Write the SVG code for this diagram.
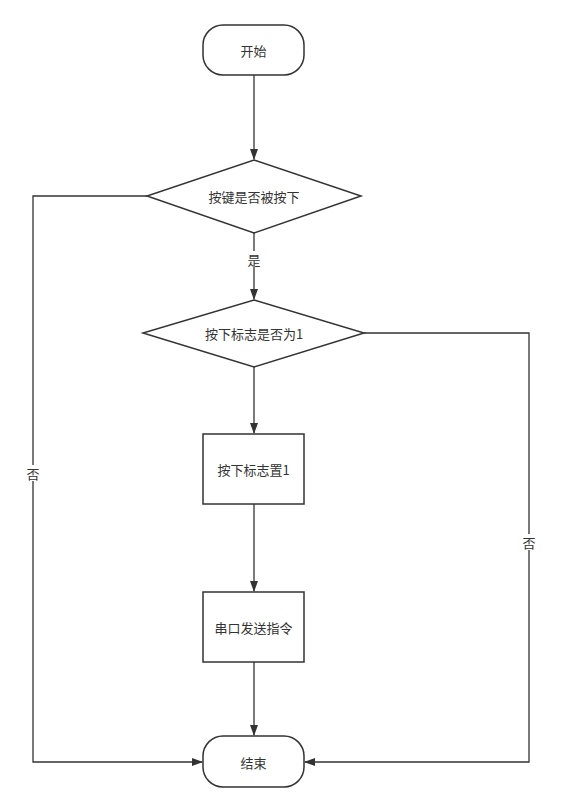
<svg xmlns="http://www.w3.org/2000/svg" width="561" height="811" viewBox="0 0 561 811">
<style>
.n{fill:#fff;stroke:#333;stroke-width:1.5}
.c{fill:none;stroke:#333;stroke-width:1.3}
text{font-family:"Noto Sans CJK SC","Liberation Sans",sans-serif;font-size:13px;fill:#333;text-anchor:middle;dominant-baseline:central}
.lb{fill:#fff}
</style>
<defs>
<marker id="a" viewBox="0 0 11 10" refX="10" refY="5" markerWidth="11" markerHeight="10" markerUnits="userSpaceOnUse" orient="auto">
<path d="M0,1 L11,5 L0,9 Z" fill="#333"/>
</marker>
</defs>
<rect width="561" height="811" fill="#fff"/>
<g id="connectors">
<path class="c" d="M254,75 V159" marker-end="url(#a)"/>
<path class="c" d="M254,233 V299" marker-end="url(#a)"/>
<path class="c" d="M254,367 V433" marker-end="url(#a)"/>
<path class="c" d="M254,504 V591" marker-end="url(#a)"/>
<path class="c" d="M254,662 V735" marker-end="url(#a)"/>
<path class="c" d="M147,196 H33 V762 H202" marker-end="url(#a)"/>
<path class="c" d="M364,333 H529 V762 H305" marker-end="url(#a)"/>
<rect class="lb" x="246" y="251" width="16" height="16"/>
<text x="254" y="259">是</text>
<rect class="lb" x="25" y="465" width="16" height="16"/>
<text x="33" y="473">否</text>
<rect class="lb" x="521" y="534" width="16" height="16"/>
<text x="529" y="542">否</text>
</g>
<g id="start">
<rect class="n" x="203" y="25" width="101" height="50" rx="20"/>
<text x="253.5" y="50">开始</text>
</g>
<g id="d1">
<polygon class="n" points="254,160 361,196 254,233 147,196"/>
<text x="254" y="196">按键是否被按下</text>
</g>
<g id="d2">
<polygon class="n" points="254,300 364,333 254,367 143,333"/>
<text x="254" y="333">按下标志是否为1</text>
</g>
<g id="p1">
<rect class="n" x="203" y="434" width="101" height="70"/>
<text x="253.5" y="469">按下标志置1</text>
</g>
<g id="p2">
<rect class="n" x="203" y="592" width="101" height="70"/>
<text x="253.5" y="627">串口发送指令</text>
</g>
<g id="end">
<rect class="n" x="203" y="736" width="101" height="51" rx="20"/>
<text x="253.5" y="762">结束</text>
</g>
</svg>
